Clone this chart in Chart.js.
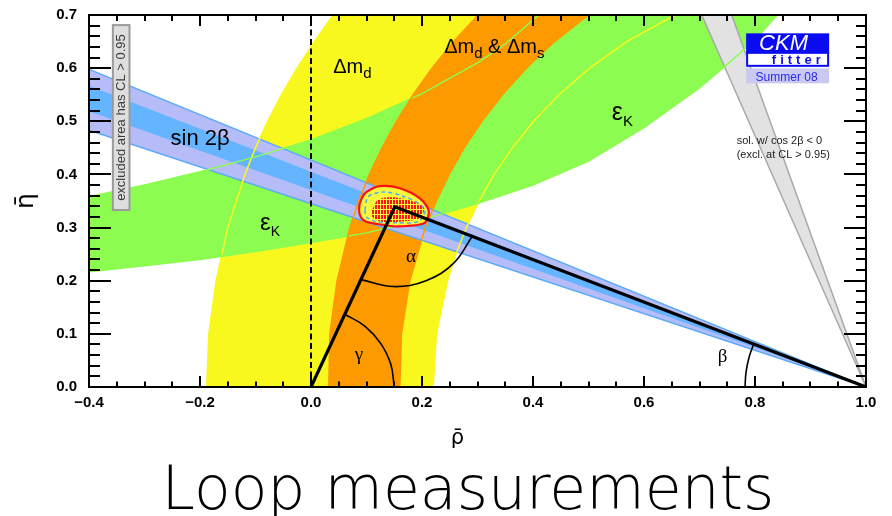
<!DOCTYPE html>
<html>
<head>
<meta charset="utf-8">
<script src="https://cdn.jsdelivr.net/npm/chart.js@4.4.1/dist/chart.umd.min.js"></script>
<style>
  html, body { margin: 0; padding: 0; background: #fff; }
  #c { display: block; }
</style>
</head>
<body>
<canvas id="c" width="892" height="516"></canvas>
<script>
// ---- constraint boundaries in the (rho-bar, eta-bar) plane ----
// Delta m_d ring (yellow), outer edge bottom->top, inner edge top->bottom
const dmdOuter = [[-0.188,0],[-0.184,0.1],[-0.171,0.2],[-0.150,0.3],[-0.119,0.4],[-0.100,0.45],[-0.078,0.5],[-0.053,0.55],[-0.025,0.6],[0.006,0.65],[0.040,0.7]];
const dmdInner = [[0.656,0.7],[0.569,0.65],[0.502,0.6],[0.447,0.55],[0.401,0.5],[0.363,0.45],[0.330,0.4],[0.303,0.35],[0.280,0.3],[0.261,0.25],[0.246,0.2],[0.226,0.1],[0.220,0]];
// Delta m_d & Delta m_s ring (orange)
const dmsOuter = [[0.032,0],[0.034,0.1],[0.047,0.2],[0.070,0.3],[0.086,0.35],[0.105,0.4],[0.128,0.45],[0.154,0.5],[0.184,0.55],[0.218,0.6],[0.257,0.65],[0.301,0.7]];
const dmsInner = [[0.500,0.7],[0.439,0.65],[0.388,0.6],[0.345,0.55],[0.308,0.5],[0.276,0.45],[0.249,0.4],[0.226,0.35],[0.206,0.3],[0.178,0.2],[0.163,0.1],[0.160,0]];
// epsilon_K band (green), lower and upper edges left->right
const epsKLower = [[-0.4,0.217],[-0.3,0.228],[-0.2,0.240],[-0.1,0.255],[0.0,0.272],[0.1,0.290],[0.2,0.315],[0.3,0.345],[0.4,0.380],[0.5,0.425],[0.6,0.488],[0.7,0.563],[0.75,0.607],[0.8,0.653],[0.84,0.700]];
const epsKUpper = [[-0.4,0.358],[-0.3,0.380],[-0.2,0.405],[-0.1,0.433],[0.0,0.465],[0.1,0.505],[0.2,0.552],[0.3,0.610],[0.35,0.645],[0.41,0.700]];
// sin 2beta wedges from (1,0): 95% (lavender) and 68% (blue)
const sin2bOuter = [[1,0],[-0.4,0.598],[-0.4,0.483],[1,0]];
const sin2bInner = [[1,0],[-0.4,0.567],[-0.4,0.519],[1,0]];
// second sin 2beta solution with cos 2beta < 0 (grey)
const cos2bWedge = [[1,0],[0.704,0.7],[0.758,0.7],[1,0]];
// global fit region around the apex
const fitOutline = [[0.150,0.302],[0.130,0.305],[0.100,0.311],[0.0895,0.320],[0.0865,0.336],[0.091,0.354],[0.100,0.367],[0.124,0.378],[0.160,0.374],[0.196,0.355],[0.212,0.332],[0.205,0.309],[0.172,0.303],[0.150,0.302]];
const fitCore = [[0.110,0.333],[0.121,0.353],[0.151,0.357],[0.187,0.348],[0.204,0.337],[0.196,0.318],[0.160,0.311],[0.124,0.312],[0.110,0.321],[0.110,0.333]];
const fitInner = [[0.097,0.333],[0.103,0.358],[0.130,0.367],[0.166,0.359],[0.199,0.342],[0.205,0.327],[0.193,0.311],[0.154,0.309],[0.118,0.311],[0.100,0.320],[0.097,0.333]];
// unitarity triangle and its angle arcs
const triangle = [[0,0],[0.151,0.339],[1,0]];
const arcGamma = [[0.150,0],[0.1438,0.0426],[0.1258,0.0817],[0.0974,0.1141],[0.061,0.137]];
const arcAlpha = [[0.090,0.202],[0.1484,0.189],[0.2072,0.1999],[0.2572,0.2331],[0.2903,0.2833]];
const arcBeta = [[0.782,0],[0.7838,0.0277],[0.789,0.0546],[0.7976,0.0810]];
const zeroLine = [[0,0],[0,0.7]];

// ---- axes ----
const xMajor = [-0.4,-0.2,0.0,0.2,0.4,0.6,0.8,1.0];
const xTickLabels = ['\u22120.4','\u22120.2','0.0','0.2','0.4','0.6','0.8','1.0'];
const yMajor = [0.0,0.1,0.2,0.3,0.4,0.5,0.6,0.7];
const yTickLabels = ['0.0','0.1','0.2','0.3','0.4','0.5','0.6','0.7'];

// ---- text annotations (anchor in rho, eta) ----
const bandLabels = [
  { at: [0.040, 0.591], runs: [['\u0394m', 20, 0], ['d', 15, 5]] },
  { at: [0.240, 0.628], runs: [['\u0394m', 20, 0], ['d', 15, 5], [' & \u0394m', 20, 0], ['s', 15, 5]] },
  { at: [0.542, 0.502], runs: [['\u03b5', 25, 0], ['K', 15, 6]] },
  { at: [-0.092, 0.295], runs: [['\u03b5', 24, 0], ['K', 14, 6]] },
  { at: [-0.253, 0.455], runs: [['sin 2\u03b2', 22, 0]] }
];
const angleLabels = [
  { at: [0.171, 0.235], t: '\u03b1' },
  { at: [0.079, 0.050], t: '\u03b3' },
  { at: [0.733, 0.047], t: '\u03b2' }
];
const noteLines = [
  { at: [0.767, 0.457], t: 'sol. w/ cos 2\u03b2 < 0' },
  { at: [0.767, 0.431], t: '(excl. at CL > 0.95)' }
];
const exclBox = { rho: [-0.357, -0.327], eta: [0.681, 0.333], t: 'excluded area has CL > 0.95' };
const logoAt = [0.784, 0.6655];

const SANS = "'Liberation Sans', Arial, sans-serif";
const SERIF = "'Liberation Serif', 'Times New Roman', serif";
const YELLOW = '#f8f81e', GREEN = '#8cfc50', ORANGE = '#fd9a00';
const BLUE = '#64b4ff', LAVENDER = '#b6bcf7';

const canvas = document.getElementById('c');
const mainCtx = canvas.getContext('2d');

// red hatch for the inner fit region
const hatchTile = document.createElement('canvas');
hatchTile.width = 3; hatchTile.height = 5;
const ht = hatchTile.getContext('2d');
ht.fillStyle = '#f8f83c'; ht.fillRect(0, 0, 3, 5);
ht.fillStyle = '#ff1414'; ht.fillRect(0, 0, 2, 4);
const hatch = mainCtx.createPattern(hatchTile, 'repeat');

const pts = a => a.map(([x, y]) => ({ x, y }));
const NONE = 'rgba(0,0,0,0)';

function area(data, color, border, bw) {
  return { data: pts(data), fill: 'shape', backgroundColor: color,
           borderColor: border || NONE, borderWidth: bw || 0, clip: 0 };
}
function curve(data, color, bw, extra) {
  return Object.assign({ data: pts(data), fill: false, borderColor: color, borderWidth: bw }, extra || {});
}

// listed back to front
const layers = [
  area([...dmdOuter, ...dmdInner], YELLOW),
  area([...epsKLower, ...epsKUpper.slice().reverse()], GREEN),
  area(cos2bWedge, '#e2e2e2', '#a9a9a9', 1.5),
  area([...dmsOuter, ...dmsInner], ORANGE),
  area(sin2bOuter, LAVENDER, '#5aaaf8', 1.5),
  area(sin2bInner, BLUE),
  curve(dmdOuter, YELLOW, 1.5),
  curve(dmdInner, YELLOW, 1.5),
  curve(epsKLower, GREEN, 1.5),
  curve(epsKUpper, GREEN, 1.5),
  curve(dmsOuter, ORANGE, 1.5),
  curve(dmsInner, ORANGE, 1.5),
  curve(zeroLine, '#000', 2, { borderDash: [6, 3.5] }),
  Object.assign(area(fitOutline, '#f8f83c', '#ff1010', 2.2), { tension: 0.3 }),
  Object.assign(area(fitCore, hatch), { tension: 0.3 }),
  curve(fitInner, '#55aaf5', 1.5, { borderDash: [4, 3], tension: 0.3 }),
  curve(triangle, '#000', 3.2),
  curve(arcGamma, '#000', 1.6, { tension: 0.4 }),
  curve(arcAlpha, '#000', 1.6, { tension: 0.4 }),
  curve(arcBeta, '#000', 1.6, { tension: 0.4 })
];
layers.forEach((d, i) => { d.order = layers.length - i; d.showLine = true; });

function pickLabel(majors, labels) {
  return v => {
    const i = majors.findIndex(m => Math.abs(m - v) < 1e-6);
    return i < 0 ? '' : labels[i];
  };
}

// inward ticks on all four sides plus the frame
const frameTicks = {
  id: 'frameTicks',
  afterDatasetsDraw(chart) {
    const { ctx, chartArea: a, scales: { x, y } } = chart;
    ctx.save();
    ctx.strokeStyle = '#000';
    ctx.lineWidth = 2;
    ctx.beginPath();
    x.ticks.forEach(t => {
      const p = Math.round(x.getPixelForValue(t.value));
      const major = t.label !== '';
      ctx.moveTo(p, a.bottom); ctx.lineTo(p, a.bottom - (major ? 11 : 5.5));
      ctx.moveTo(p, a.top); ctx.lineTo(p, a.top + (major ? 11 : 6));
    });
    y.ticks.forEach(t => {
      const p = Math.round(y.getPixelForValue(t.value));
      const major = t.label !== '';
      ctx.moveTo(a.left, p); ctx.lineTo(a.left + (major ? 22 : 11), p);
      ctx.moveTo(a.right, p); ctx.lineTo(a.right - (major ? 22 : 10), p);
    });
    ctx.stroke();
    ctx.strokeRect(a.left, a.top, a.right - a.left, a.bottom - a.top);
    ctx.restore();
  }
};

const annotations = {
  id: 'annotations',
  afterDatasetsDraw(chart) {
    const { ctx, scales: { x, y } } = chart;
    const X = v => x.getPixelForValue(v), Y = v => y.getPixelForValue(v);
    ctx.save();
    ctx.textBaseline = 'alphabetic';
    ctx.textAlign = 'left';
    ctx.fillStyle = '#000';

    bandLabels.forEach(l => {
      let cx = X(l.at[0]);
      const by = Y(l.at[1]);
      l.runs.forEach(([t, size, dy]) => {
        ctx.font = size + 'px ' + SANS;
        ctx.fillText(t, cx, by + dy);
        cx += ctx.measureText(t).width;
      });
    });

    ctx.font = '19px ' + SERIF;
    angleLabels.forEach(l => ctx.fillText(l.t, X(l.at[0]), Y(l.at[1])));

    ctx.fillStyle = '#222';
    ctx.font = '11px ' + SANS;
    noteLines.forEach(l => ctx.fillText(l.t, X(l.at[0]), Y(l.at[1])));

    // vertical note box
    const bx0 = X(exclBox.rho[0]), bx1 = X(exclBox.rho[1]);
    const by0 = Y(exclBox.eta[0]), by1 = Y(exclBox.eta[1]);
    ctx.fillStyle = '#dedede';
    ctx.fillRect(bx0, by0, bx1 - bx0, by1 - by0);
    ctx.strokeStyle = '#9a9a9a';
    ctx.lineWidth = 2;
    ctx.strokeRect(bx0, by0, bx1 - bx0, by1 - by0);
    ctx.save();
    ctx.translate((bx0 + bx1) / 2, (by0 + by1) / 2);
    ctx.rotate(-Math.PI / 2);
    ctx.font = '13px ' + SANS;
    ctx.textAlign = 'center';
    ctx.textBaseline = 'middle';
    ctx.fillStyle = '#3a3a3a';
    ctx.fillText(exclBox.t, 0, 0.5);
    ctx.restore();

    // CKMfitter badge
    const lx = X(logoAt[0]), ly = Y(logoAt[1]), w = 83;
    ctx.fillStyle = '#0b0bf2';
    ctx.fillRect(lx, ly, w, 19.5);
    ctx.fillStyle = '#fff';
    ctx.font = 'italic 22px ' + SANS;
    ctx.fillText('CKM', lx + 13, ly + 17);
    ctx.fillRect(lx, ly + 19.5, w, 14);
    ctx.strokeStyle = '#0b0bf2';
    ctx.lineWidth = 2;
    ctx.strokeRect(lx + 1, ly + 19.5, w - 2, 13);
    ctx.fillStyle = '#0b0bf2';
    ctx.font = 'bold 13px ' + SANS;
    let cx = lx + 25.7;
    for (const ch of 'fitter') { ctx.fillText(ch, cx, ly + 30.7); cx += ctx.measureText(ch).width + 4; }
    ctx.fillStyle = '#c9c9f1';
    ctx.fillRect(lx, ly + 35, w, 15);
    ctx.fillStyle = '#2a2af5';
    ctx.font = '12px ' + SANS;
    ctx.textAlign = 'center';
    ctx.fillText('Summer 08', lx + w / 2 - 1, ly + 47.4);
    ctx.restore();
  }
};

new Chart(canvas, {
  type: 'scatter',
  data: { datasets: layers },
  options: {
    responsive: false,
    devicePixelRatio: 1,
    animation: false,
    events: [],
    layout: { padding: { top: 15, right: 26, bottom: 0, left: 0 } },
    elements: { point: { radius: 0, hoverRadius: 0, hitRadius: 0 } },
    plugins: {
      legend: { display: false },
      tooltip: { enabled: false },
      title: {
        display: true, position: 'bottom', fullSize: false, text: 'Loop measurements\u00a0', color: '#000',
        font: { family: "'DejaVu Sans'", size: 60, weight: '200', lineHeight: 0.75 },
        padding: { top: 0, bottom: 0 }
      }
    },
    scales: {
      x: {
        type: 'linear', min: -0.4, max: 1.0,
        afterFit: s => { s.height = 84; s.paddingLeft = 0; s.paddingRight = 0; },
        grid: { display: false, drawTicks: false },
        border: { display: false },
        ticks: {
          stepSize: 0.05, maxTicksLimit: 100, autoSkip: false, maxRotation: 0, padding: 7,
          color: '#000', font: { family: SANS, size: 15, weight: 'bold' },
          callback: pickLabel(xMajor, xTickLabels)
        },
        title: {
          display: true, text: '\u03c1\u0304\u00a0\u00a0\u00a0\u00a0\u00a0\u00a0', color: '#000',
          font: { family: "'DejaVu Sans'", size: 21 }, padding: { top: 0, bottom: 20 }
        }
      },
      y: {
        type: 'linear', min: 0, max: 0.7,
        afterFit: s => { s.width = 89; s.paddingTop = 0; s.paddingBottom = 0; },
        grid: { display: false, drawTicks: false },
        border: { display: false },
        ticks: {
          stepSize: 0.02, maxTicksLimit: 100, autoSkip: false, padding: 12,
          color: '#000', font: { family: SANS, size: 15, weight: 'bold' },
          callback: pickLabel(yMajor, yTickLabels)
        },
        title: {
          display: true, text: '\u03b7\u0304', color: '#000',
          font: { family: "'DejaVu Sans'", size: 25 }, padding: { top: 11, bottom: 0 }
        }
      }
    }
  },
  plugins: [frameTicks, annotations]
});
</script>
</body>
</html>
